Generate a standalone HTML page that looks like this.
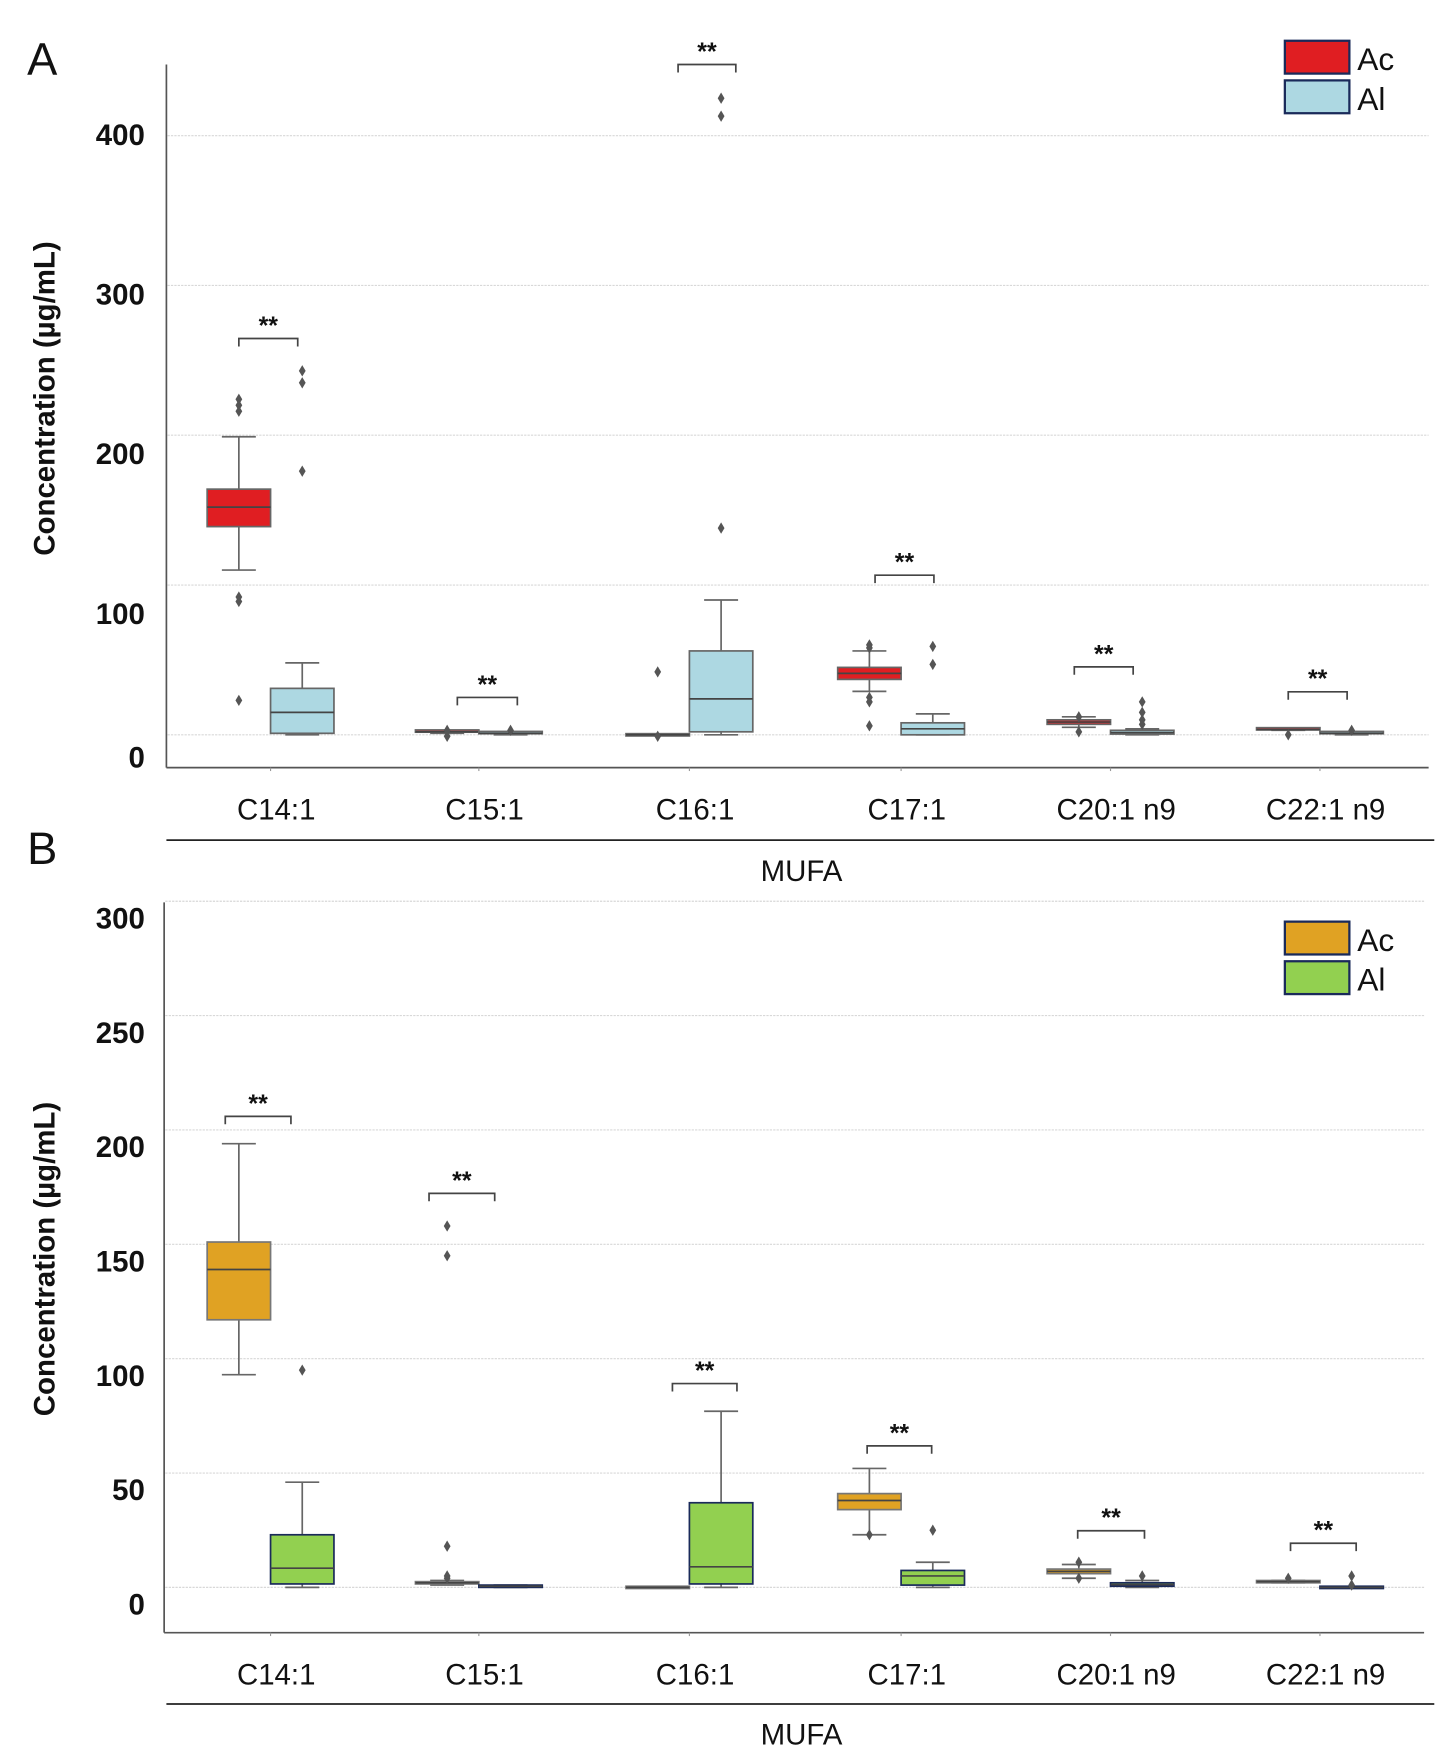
<!DOCTYPE html>
<html><head><meta charset="utf-8"><style>
html,body{margin:0;padding:0;background:#fff}
svg{display:block}
text{font-family:"Liberation Sans",sans-serif}
</style></head><body>
<svg id="fig" width="1449" height="1764" viewBox="0 0 1280 1558" preserveAspectRatio="none" xmlns="http://www.w3.org/2000/svg"></svg>
<script>
// ---- shared ----
const categories = ["C14:1","C15:1","C16:1","C17:1","C20:1 n9","C22:1 n9"];

// ---- Panel A data ----
const aAcQ1  = [139, 1.5, 0, 37, 7, 3];
const aAcMed = [152, 2, 0, 41, 8.5, 3.5];
const aAcQ3  = [164, 2.5, 0, 45, 10, 4];
const aAcLo  = [110, 1, 0, 29, 5, 3];
const aAcHi  = [199, 3, 0, 56, 12, 4];
const aAcOut = [[224,220,216,92,89,23],[3,-1],[42,-1],[60,58,25,22,6],[2,12],[0]];
const aAlQ1  = [1, 0.5, 2, 0, 0.5, 0.5];
const aAlMed = [15, 1, 24, 4, 1.5, 1];
const aAlQ3  = [31, 1.5, 56, 8, 3, 1.5];
const aAlLo  = [0, 0, 0, 0, 0, 0];
const aAlHi  = [48, 2, 90, 14, 4, 2];
const aAlOut = [[243,235,176],[3],[425,413,138],[59,47],[22,15,10,7],[3]];
const aTicks = [0,100,200,300,400];

// ---- Panel B data ----
const bAcQ1  = [117, 1.5, 0, 34, 6, 2];
const bAcMed = [139, 2, 0, 38, 7, 2.5];
const bAcQ3  = [151, 2.5, 0, 41, 8, 3];
const bAcLo  = [93, 1, 0, 23, 4, 2];
const bAcHi  = [194, 3, 0, 52, 10, 3];
const bAcOut = [[],[158,145,18,5,4],[],[23],[11,4],[4]];
const bAlQ1  = [1.5, 0, 1.5, 1, 0.5, 0];
const bAlMed = [8.4, 0.5, 9, 5, 1.2, 0];
const bAlQ3  = [23, 1, 37, 7.4, 2, 0];
const bAlLo  = [0, 0, 0, 0, 0, 0];
const bAlHi  = [46, 1, 77, 11, 3, 0];
const bAlOut = [[95],[],[],[25],[5],[5,1]];
const bTicks = [0,50,100,150,200,250,300];

const NS = "http://www.w3.org/2000/svg";
const svg = document.getElementById("fig");
function mk(tag, attrs, parent){
  const e = document.createElementNS(NS, tag);
  for (const k in attrs) e.setAttribute(k, attrs[k]);
  (parent||svg).appendChild(e);
  return e;
}
const catX = [239, 423, 609, 796, 981, 1166];
function xPos(i){ return catX[i]; }

function panel(p){
  const g = mk("g", {});
  
  
  const y = v => p.y0 - v * p.k;
  // gridlines
  p.ticks.forEach(t=>{
    const l = mk("line",{x1:p.axL+1,x2:p.axR,y1:y(t),y2:y(t),stroke:"#d8d8d8","stroke-width":1,"stroke-dasharray":"2,1"},g);
    
    
    const tx = mk("text",{x:128,y:p.labelY(t)+9,"text-anchor":"end","font-size":26,"font-weight":"bold",fill:"#111"},g);
    tx.textContent = t;
    
    
  });
  // axes
  const ya = mk("line",{x1:p.axL,x2:p.axL,y1:p.axTop,y2:p.axBot,stroke:"#555","stroke-width":1.5},g);
  
  
  const xa = mk("line",{x1:p.axL,x2:p.axR,y1:p.axBot,y2:p.axBot,stroke:"#555","stroke-width":1.5},g);
  
  
  // y title
  const yt = mk("text",{x:0,y:0,transform:`translate(48,${p.titleY}) rotate(-90)`,"text-anchor":"middle","font-size":26,"font-weight":"bold",fill:"#111"},g);
  yt.textContent = "Concentration (µg/mL)";
  
  
  // panel letter
  const pl = mk("text",{x:24,y:p.letterY,"font-size":40,fill:"#111"},g);
  pl.textContent = p.letter;
  
  
  // categories
  categories.forEach((c,i)=>{
    const cx = xPos(i);
    mk("line",{x1:cx,x2:cx,y1:p.axBot,y2:p.axBot+3,stroke:"#999"},g);
    const t = mk("text",{x:cx+5,y:p.axBot+46,"text-anchor":"middle","font-size":26,fill:"#111"},g);
    t.textContent = c;
    
    
    const series = [
      {q1:p.acQ1,med:p.acMed,q3:p.acQ3,lo:p.acLo,hi:p.acHi,out:p.acOut,fill:p.acCol,stroke:p.acStroke,off:-28,n:"ac"},
      {q1:p.alQ1,med:p.alMed,q3:p.alQ3,lo:p.alLo,hi:p.alHi,out:p.alOut,fill:p.alCol,stroke:p.alStroke,off:28,n:"al"}];
    series.forEach(s=>{
      const bx = cx + s.off, w = 56;
      const bg = mk("g",{},g);
      
      
      mk("line",{x1:bx,x2:bx,y1:y(s.hi),y2:y(s.q3),stroke:"#666","stroke-width":1.5},bg);
      mk("line",{x1:bx,x2:bx,y1:y(s.q1[i]),y2:y(s.lo[i]),stroke:"#666","stroke-width":1.5},bg);
      mk("line",{x1:bx,x2:bx,y1:y(s.hi[i]),y2:y(s.q3[i]),stroke:"#666","stroke-width":1.5},bg);
      mk("line",{x1:bx-15,x2:bx+15,y1:y(s.hi[i]),y2:y(s.hi[i]),stroke:"#666","stroke-width":1.5},bg);
      mk("line",{x1:bx-15,x2:bx+15,y1:y(s.lo[i]),y2:y(s.lo[i]),stroke:"#666","stroke-width":1.5},bg);
      const h = Math.max(y(s.q1[i]) - y(s.q3[i]), 2);
      mk("rect",{x:bx-w/2,y:y(s.q3[i]) - (h<=2?1:0),width:w,height:h,fill:s.fill,stroke:s.stroke,"stroke-width":1.5},bg);
      mk("line",{x1:bx-w/2,x2:bx+w/2,y1:y(s.med[i]),y2:y(s.med[i]),stroke:"#444","stroke-width":1.5},bg);
      s.out[i].forEach(v=>{
        const oy = y(v);
        const d = mk("path",{d:`M${bx} ${oy-5} L${bx+3} ${oy} L${bx} ${oy+5} L${bx-3} ${oy} Z`,fill:"#555"},bg);
        
        
      });
    });
    // significance bracket
    const b = p.brackets[i];
    const bk = mk("g",{},g);
    
    
    mk("path",{d:`M${b[1]} ${b[0]+7} V${b[0]} H${b[2]} V${b[0]+7}`,fill:"none",stroke:"#444","stroke-width":1.5},bk);
    const st = mk("text",{x:(b[1]+b[2])/2,y:b[0]-4,"text-anchor":"middle","font-size":22,"font-weight":"bold",fill:"#111"},bk);
    st.textContent = "**";
  });
  // MUFA
  const ml = mk("line",{x1:147,x2:1267,y1:p.mufaLine,y2:p.mufaLine,stroke:"#222","stroke-width":1.5},g);
  
  
  const mt = mk("text",{x:708,y:p.mufaLine+36,"text-anchor":"middle","font-size":26,fill:"#111"},g);
  mt.textContent = "MUFA";
  
  
  // legend
  [["Ac",p.acCol],["Al",p.alCol]].forEach((L,j)=>{
    const ly = p.legY + j*35;
    const lg = mk("g",{},g);
    
    
    mk("rect",{x:1135,y:ly,width:57,height:29,fill:L[1],stroke:"#1a2a5a","stroke-width":2},lg);
    const t = mk("text",{x:1199,y:ly+26,"font-size":28,fill:"#111"},lg);
    t.textContent = L[0];
  });
}

panel({name:"panel-a",letter:"A",letterY:66,y0:649,k:1.323,ticks:aTicks,labelY:v=>v===0?669:683-v*1.41,
  axL:147,axR:1262,axTop:57,axBot:678,titleY:352,mufaLine:742,legY:36,
  acQ1:aAcQ1,acMed:aAcMed,acQ3:aAcQ3,acLo:aAcLo,acHi:aAcHi,acOut:aAcOut,
  alQ1:aAlQ1,alMed:aAlMed,alQ3:aAlQ3,alLo:aAlLo,alHi:aAlHi,alOut:aAlOut,
  acCol:"#e01e22",alCol:"#add8e2",acStroke:"#666",alStroke:"#666",
  brackets:[[299,211,263],[616,404,457],[57,599,650],[508,773,825],[589,949,1001],[611,1138,1190]]});

panel({name:"panel-b",letter:"B",letterY:763,y0:1402,k:2.02,ticks:bTicks,labelY:v=>1402-v*2.02+15,
  axL:145,axR:1258,axTop:797,axBot:1442,titleY:1112,mufaLine:1505,legY:814,
  acQ1:bAcQ1,acMed:bAcMed,acQ3:bAcQ3,acLo:bAcLo,acHi:bAcHi,acOut:bAcOut,
  alQ1:bAlQ1,alMed:bAlMed,alQ3:bAlQ3,alLo:bAlLo,alHi:bAlHi,alOut:bAlOut,
  acCol:"#e0a223",alCol:"#92d050",acStroke:"#777",alStroke:"#1a2a5a",
  brackets:[[986,199,257],[1054,379,437],[1222,594,651],[1277,766,823],[1352,952,1011],[1363,1140,1198]]});
</script>
</body></html>
